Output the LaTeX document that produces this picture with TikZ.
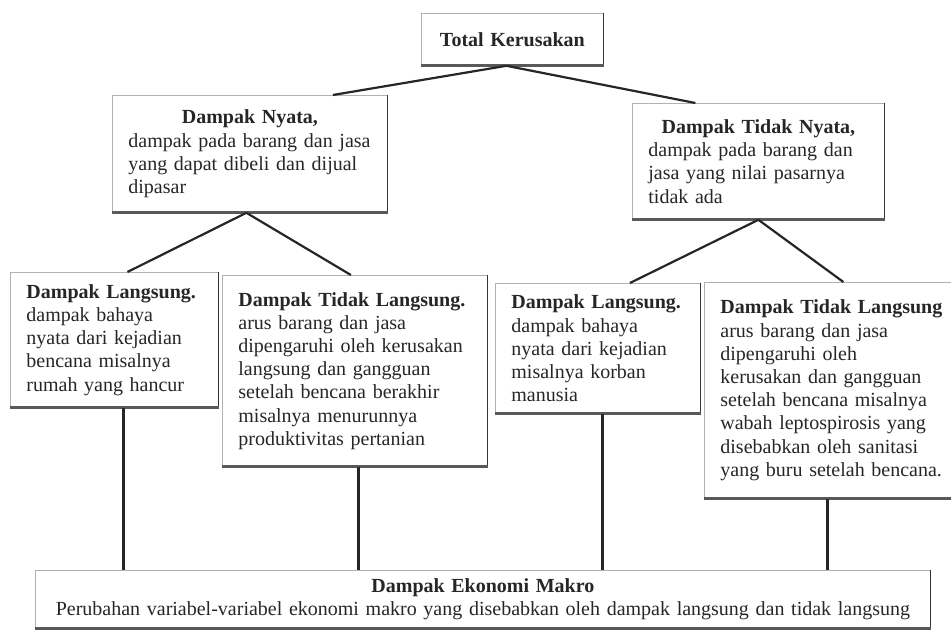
\documentclass[tikz,border=0pt]{standalone}
\usepackage{fontspec}
\setmainfont{Liberation Serif}

\begin{document}
\begin{tikzpicture}[x=0.5pt,y=-0.5pt]
  \tikzstyle{every node}=[font=\fontsize{10}{11.6}\selectfont, text=black!85]
  \tikzstyle{box}=[draw=black!30, line width=0.4pt, inner xsep=8pt, inner ysep=0pt, align=left, anchor=north west]
  \tikzstyle{edge}=[line width=1.1pt, black!85]
  \tikzstyle{rim}=[line width=0.6pt, black!80]
  \tikzstyle{sill}=[line width=1.6pt, black!65]
  \useasboundingbox (0,0) rectangle (951,638);
  \clip (0,0) rectangle (951,638);
  \node[box, align=center, text width=75pt, minimum height=26pt] (total) at (421,13) {\textbf{Total Kerusakan}};
  \node[box, text width=121.5pt, minimum height=58.5pt] (nyata) at (112,95)
    {\makebox[\hsize][c]{\bfseries Dampak Nyata,}\\ dampak pada barang dan jasa\\ yang dapat dibeli dan dijual\\ dipasar};
  \node[box, text width=110pt, minimum height=58pt] (tnyata) at (632,103)
    {\makebox[\hsize][c]{\bfseries Dampak Tidak Nyata,}\\ dampak pada barang dan\\ jasa yang nilai pasarnya\\ tidak ada};
  \node[box, text width=88pt, minimum height=67.5pt] (dl1) at (10,272)
    {\textbf{Dampak Langsung.}\\ dampak bahaya\\ nyata dari kejadian\\ bencana misalnya\\ rumah yang hancur};
  \node[box, text width=116.5pt, minimum height=95.5pt] (dtl1) at (222,275)
    {\textbf{Dampak Tidak Langsung.}\\ arus barang dan jasa\\ dipengaruhi oleh kerusakan\\ langsung dan gangguan\\ setelah bencana berakhir\\ misalnya menurunnya\\ produktivitas pertanian};
  \node[box, text width=86.5pt, minimum height=65pt] (dl2) at (495,283)
    {\textbf{Dampak Langsung.}\\ dampak bahaya\\ nyata dari kejadian\\ misalnya korban\\ manusia};
  \node[box, text width=112pt, minimum height=108pt] (dtl2) at (704,282)
    {\textbf{Dampak Tidak Langsung}\\ arus barang dan jasa\\ dipengaruhi oleh\\ kerusakan dan gangguan\\ setelah bencana misalnya\\ wabah leptospirosis yang\\ disebabkan oleh sanitasi\\ yang buru setelah bencana.};
  \node[box, align=center, inner xsep=3.75pt, text width=440pt, minimum height=29pt] (makro) at (35,570)
    {\textbf{Dampak Ekonomi Makro}\\ Perubahan variabel-variabel ekonomi makro yang disebabkan oleh dampak langsung dan tidak langsung};
  % shadow edges
  \foreach \n in {total,nyata,tnyata,dl1,dtl1,dl2,dtl2,makro}{
    \draw[rim] (\n.north east) -- (\n.south east);
    \draw[sill] (\n.south west) -- (\n.south east);
  }
  \draw[edge] ([xshift=-3pt]total.south) -- ([xshift=41.5pt]nyata.north);
  \draw[edge] ([xshift=-3pt]total.south) -- ([xshift=-31.5pt]tnyata.north);
  \draw[edge] ([xshift=-1.75pt]nyata.south) -- ([xshift=6.5pt]dl1.north);
  \draw[edge] ([xshift=-1.75pt]nyata.south) -- ([xshift=-2pt]dtl1.north);
  \draw[edge] (tnyata.south) -- ([xshift=16pt]dl2.north);
  \draw[edge] (tnyata.south) -- ([xshift=5.5pt]dtl2.north);
  \foreach \n/\s in {dl1/4.5pt, dtl1/1.75pt, dl2/2.25pt, dtl2/-2.5pt}
    \draw[edge] ([xshift=\s]\n.south) -- ([xshift=\s]\n.south |- makro.north);
\end{tikzpicture}
\end{document}
